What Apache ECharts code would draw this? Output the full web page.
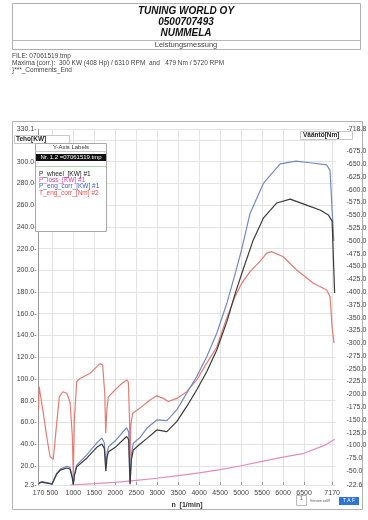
<!DOCTYPE html>
<html><head><meta charset="utf-8">
<script src="https://cdn.jsdelivr.net/npm/echarts@6/dist/echarts.min.js"></script>
<style>html,body{margin:0;padding:0;background:#fff}#c{width:368px;height:520px}</style>
</head><body><div id="c"></div>
<script>
// ---- data ----
const xTickLabels = [170,500,1000,1500,2000,2500,3000,3500,4000,4500,5000,5500,6000,6500,7170];
const leftTicks = [2.3,20,40,60,80,100,120,140,160,180,200,220,240,260,280,300,320,330.1];
const leftLabels = [2.3,20,40,60,80,100,120,140,160,180,200,220,240,260,280,300,330.1];
const rightLabels = [22.6,50,75,100,125,150,175,200,225,250,275,300,325,350,375,400,425,450,475,500,525,550,575,600,625,650,675,718.8];

const rpmWheel = [170,250,370,490,600,690,840,920,975,1000,1025,1080,1320,1560,1680,1740,1775,1805,1840,2000,2270,2320,2352,2385,2430,2590,2750,2990,3230,3465,3700,3940,4180,4420,4660,4860,5050,5290,5530,5850,6170,6560,6880,7080,7170,7210,7230];
const pWheel   = [3.5,5,4,3,12,16,18,17,9,2.5,11,19,27,37,40,36,15,28,33,37,47,44,3,26,34.5,40,45,53,51.5,60.6,74.4,89.8,106.6,126.6,152.7,178.8,201,228,248,262,265.5,260,255.5,251,245,200,179];

const rpmEng = [170,250,370,490,600,690,840,920,975,1000,1025,1080,1320,1560,1680,1740,1775,1805,1840,2000,2270,2320,2352,2385,2430,2590,2750,2990,3230,3465,3700,3940,4180,4420,4660,4860,5010,5210,5530,5930,6310,6640,7040,7120,7170,7210];
const pEng   = [4,5.5,4.5,3.5,13,17,19.5,18.5,10,2.5,12,20.5,30,41,45.5,41,19,32,37.6,43,55,51,4,31,40.7,46,54.5,62.2,61.5,71.4,86.7,102,120.4,142,169.6,197.2,218.7,252,280,298,300.5,299,297,292,255,227];

const rpmLoss = [920,1500,2000,2500,3000,3500,4000,4500,5000,5500,6000,6500,7000,7230];
const pLoss   = [2.3,3.5,4.8,6.5,8.5,11,13.5,16.5,20,24,28,31.5,39,44.5];

const rpmTorque = [170,185,225,285,366,445,523,588,666,747,843,921,975,1000,1025,1081,1160,1398,1636,1700,1750,1772,1800,1834,1953,2113,2272,2312,2340,2352,2370,2415,2590,2828,2987,3145,3265,3465,3703,3942,4180,4420,4576,4657,4855,5014,5212,5450,5610,5720,6006,6325,6721,7040,7120,7170,7215];
const tEng      = [170,215,212,163,117,78,73,130,195,205,202,185,120,40,150,225,231,241,260,257,200,124,170,195,205,218,228,224,150,70,140,163,173,189,197,192,186,192,205,228,261,292,330,349,391,417,440,460,476,479,469,443,417,404,391,330,300];

const pairs = (xs, ys) => xs.map((x, i) => [x, ys[i]]);

const chart = echarts.init(document.getElementById('c'), null, {renderer: 'canvas'});
const FONT = 'Liberation Sans, Arial, sans-serif';
const txt = (x, y, text, font, fill, align, z) => ({
  type: 'text', x: x, y: y, z: z || 50,
  style: {text: text, font: font, fill: fill || '#333', align: align || 'left', verticalAlign: 'middle'}
});

chart.setOption({
  animation: false,
  backgroundColor: '#fff',
  grid: {left: 38.5, right: 32.5, top: 129, bottom: 35, containLabel: false, outerBoundsMode: 'none'},
  xAxis: {
    type: 'value', min: 170, max: 7250,
    name: 'n  [1/min]', nameLocation: 'middle', nameGap: 15,
    nameTextStyle: {fontSize: 7, fontWeight: 'bold', color: '#333', fontFamily: FONT},
    axisLine: {show: false},
    axisTick: {show: true, inside: true, length: 3, lineStyle: {color: '#999'}, customValues: xTickLabels},
    axisLabel: {customValues: xTickLabels, fontSize: 7, color: '#444', margin: 5, fontFamily: FONT, formatter: v => String(v)},
    splitLine: {show: true, lineStyle: {color: '#e3e3e3', width: 1}}
  },
  yAxis: [{
    type: 'value', min: 2.3, max: 330.1, position: 'left',
    axisLine: {show: true, lineStyle: {color: '#999', width: 1}},
    axisTick: {show: false, customValues: leftTicks},
    axisLabel: {customValues: leftLabels, fontSize: 7, color: '#444', margin: 2, fontFamily: FONT,
      formatter: v => v.toFixed(1) + '-'},
    splitLine: {show: true, lineStyle: {color: '#e3e3e3', width: 1}}
  }, {
    type: 'value', min: 22.6, max: 718.8, position: 'right',
    axisLine: {show: false},
    axisTick: {show: false, customValues: rightLabels},
    axisLabel: {customValues: rightLabels, fontSize: 7, color: '#444', margin: 11, fontFamily: FONT,
      formatter: v => '-' + v.toFixed(1)},
    splitLine: {show: false}
  }],
  series: [
    {name: 'P_loss_[KW] #1', type: 'line', yAxisIndex: 0, data: pairs(rpmLoss, pLoss), showSymbol: false,
      lineStyle: {color: '#e48cc0', width: 1.2}, itemStyle: {color: '#e48cc0'}},
    {name: 'T_eng_corr_[Nm] #2', type: 'line', yAxisIndex: 1, data: pairs(rpmTorque, tEng), showSymbol: false,
      lineStyle: {color: '#e47c74', width: 1.2}, itemStyle: {color: '#e47c74'}},
    {name: 'P_eng_corr_[KW] #1', type: 'line', yAxisIndex: 0, data: pairs(rpmEng, pEng), showSymbol: false,
      lineStyle: {color: '#7289c8', width: 1.2}, itemStyle: {color: '#7289c8'}},
    {name: 'P_wheel_[KW] #1', type: 'line', yAxisIndex: 0, data: pairs(rpmWheel, pWheel), showSymbol: false,
      lineStyle: {color: '#3a3a3a', width: 1.2}, itemStyle: {color: '#3a3a3a'}}
  ],
  graphic: [
    // header box
    {type: 'rect', z: 40, shape: {x: 12.5, y: 3.5, width: 348, height: 46}, style: {fill: 'none', stroke: '#b0b0b0', lineWidth: 1}},
    {type: 'line', z: 40, shape: {x1: 12.5, y1: 40.5, x2: 360.5, y2: 40.5}, style: {stroke: '#b8b8b8', lineWidth: 1}},
    txt(186, 11.5, 'TUNING WORLD OY', 'italic bold 10px ' + FONT, '#111', 'center'),
    txt(186, 22.5, '0500707493', 'italic bold 10px ' + FONT, '#111', 'center'),
    txt(186, 33.5, 'NUMMELA', 'italic bold 10px ' + FONT, '#111', 'center'),
    txt(186, 45, 'Leistungsmessung', '7.5px ' + FONT, '#444', 'center'),
    txt(12, 56, 'FILE: 07061519.tmp', '6.5px ' + FONT, '#444'),
    txt(12, 63, 'Maxima (corr.):  300 KW (408 Hp) / 6310 RPM  and   479 Nm / 5720 RPM', '6.5px ' + FONT, '#444'),
    txt(12, 70, '}***_Comments_End', '6.5px ' + FONT, '#444'),
    // chart frame
    {type: 'rect', z: 40, shape: {x: 12.5, y: 121.5, width: 350, height: 388}, style: {fill: 'none', stroke: '#b0b0b0', lineWidth: 1}},
    // axis title boxes
    {type: 'rect', z: 60, shape: {x: 14.5, y: 135.5, width: 55, height: 8}, style: {fill: '#fff', stroke: '#c8c8c8', lineWidth: 1}},
    txt(16, 139.5, 'Teho[KW]', 'bold 6.5px ' + FONT, '#222', 'left', 61),
    {type: 'rect', z: 60, shape: {x: 300.5, y: 131.5, width: 52, height: 8}, style: {fill: '#fff', stroke: '#c8c8c8', lineWidth: 1}},
    txt(303, 135.5, 'Vääntö[Nm]', 'bold 6.5px ' + FONT, '#222', 'left', 61),
    // Y-axis labels box
    {type: 'rect', z: 60, shape: {x: 35.5, y: 143.5, width: 71, height: 88}, style: {fill: '#fff', stroke: '#a8a8a8', lineWidth: 1}},
    txt(71, 147.5, 'Y-Axis Labels', '6px ' + FONT, '#333', 'center', 61),
    {type: 'line', z: 61, shape: {x1: 35.5, y1: 151.5, x2: 106.5, y2: 151.5}, style: {stroke: '#c8c8c8', lineWidth: 1}},
    {type: 'rect', z: 61, shape: {x: 36, y: 154, width: 70, height: 7}, style: {fill: '#111'}},
    txt(71, 157.5, 'Nr. 1.2 =07061519.tmp', '6px ' + FONT, '#fff', 'center', 62),
    {type: 'line', z: 61, shape: {x1: 36, y1: 166.5, x2: 106, y2: 166.5}, style: {stroke: '#a8d8a0', lineWidth: 1}},
    txt(39, 174, 'P_wheel_[KW] #1', '6.5px ' + FONT, '#222', 'left', 61),
    txt(39, 180.3, 'P_loss_[KW] #1', '6.5px ' + FONT, '#e040a8', 'left', 61),
    txt(39, 186.6, 'P_eng_corr_[KW] #1', '6.5px ' + FONT, '#3a5fc8', 'left', 61),
    txt(39, 192.9, 'T_eng_corr_[Nm] #2', '6.5px ' + FONT, '#e85050', 'left', 61),
    // bottom right widgets
    {type: 'rect', z: 60, shape: {x: 296.5, y: 495.5, width: 10, height: 10}, style: {fill: '#fff', stroke: '#bbb', lineWidth: 1}},
    txt(301.5, 499, '1', '5px ' + FONT, '#555', 'center', 61),
    txt(310, 501, 'Version xx09', '3.5px ' + FONT, '#555', 'left', 61),
    {type: 'rect', z: 60, shape: {x: 339, y: 497, width: 20, height: 8}, style: {fill: '#2f74d8'}},
    txt(349, 501, 'T A F', '5px ' + FONT, '#fff', 'center', 61)
  ]
});
</script></body></html>
